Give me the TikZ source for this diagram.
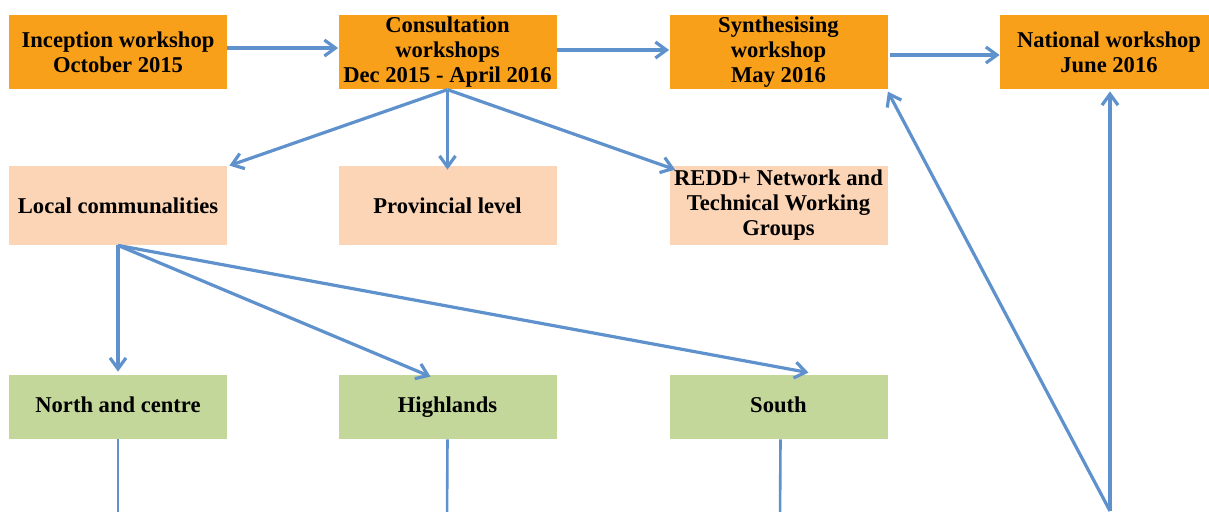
\documentclass[tikz,border=0pt]{standalone}
\usepackage{fontspec}
\setmainfont{Liberation Serif}
\usetikzlibrary{arrows.meta}

\definecolor{wsorange}{RGB}{249,160,27}
\definecolor{wspeach}{RGB}{251,213,181}
\definecolor{wsgreen}{RGB}{196,215,155}
\definecolor{wsblue}{RGB}{95,146,204}

\begin{document}
\begin{tikzpicture}[x=0.5pt, y=-0.5pt,
  arr/.style={wsblue, line width=1.6pt, -{Straight Barb[length=5.5pt,width=8pt,line width=1.6pt]}},
  ln/.style={wsblue, line width=1.3pt},
  box/.style={minimum width=109pt, inner sep=1pt, align=center,
    font=\fontsize{11.3}{12.5}\selectfont\bfseries},
  event/.style={box, fill=wsorange, minimum height=37pt},
  level/.style={box, fill=wspeach, minimum height=39.5pt},
  region/.style={box, fill=wsgreen, minimum height=32pt, text height=7.5pt, text depth=2.5pt}
]
\useasboundingbox (0,0) rectangle (1209,511);

\node[event] (inc) at (118,52)    {Inception workshop\\October 2015};
\node[event] (con) at (447.5,52)  {Consultation\\workshops\\Dec 2015 - April 2016};
\node[event] (syn) at (778.5,52)  {Synthesising\\workshop\\May 2016};
\node[event] (nat) at (1109,52)   {National workshop\\June 2016};

\node[level] (loc) at (118,205.5)   {Local communalities};
\node[level] (pro) at (447.5,205.5) {Provincial level};
\node[level] (red) at (778.5,205.5) {REDD+ Network and\\Technical Working\\Groups};

\node[region] (nor) at (118,407)   {North and centre};
\node[region] (hig) at (447.5,407) {Highlands};
\node[region] (sou) at (778.5,407) {South};

\coordinate (nb) at (118,520);
\coordinate (hb) at (447,520);
\coordinate (sb) at (780,520);
\coordinate (rb) at (1110,511);

\draw[arr] ([yshift=2pt]inc.east) -- ([yshift=2pt]con.west);
\draw[arr] ([yshift=1pt]con.east) -- ([yshift=1pt]syn.west);
\draw[arr] ([xshift=1pt,yshift=-1.5pt]syn.east) -- ([yshift=-1.5pt]nat.west);

\draw[arr] (con.south) -- ([xshift=1pt]loc.north east);
\draw[arr] (con.south) -- ([yshift=-2pt]pro.north);
\draw[arr] (con.south) -- ([xshift=3pt,yshift=-2pt]red.north west);

\draw[arr] (loc.south) -- ([yshift=1.5pt]nor.north);
\draw[arr] (loc.south) -- ([xshift=-8.5pt,yshift=-1pt]hig.north);
\draw[arr] (loc.south) -- ([xshift=15pt,yshift=1pt]sou.north);

\draw[ln] (nor.south) -- (nb);
\draw[ln] (hig.south) -- (hb);
\draw[ln] ([xshift=1pt]sou.south) -- (sb);

\draw[arr] (rb) -- ([yshift=-1pt]syn.south east);
\draw[arr] (rb) -- ([xshift=0.5pt,yshift=-1pt]nat.south);
\end{tikzpicture}
\end{document}
